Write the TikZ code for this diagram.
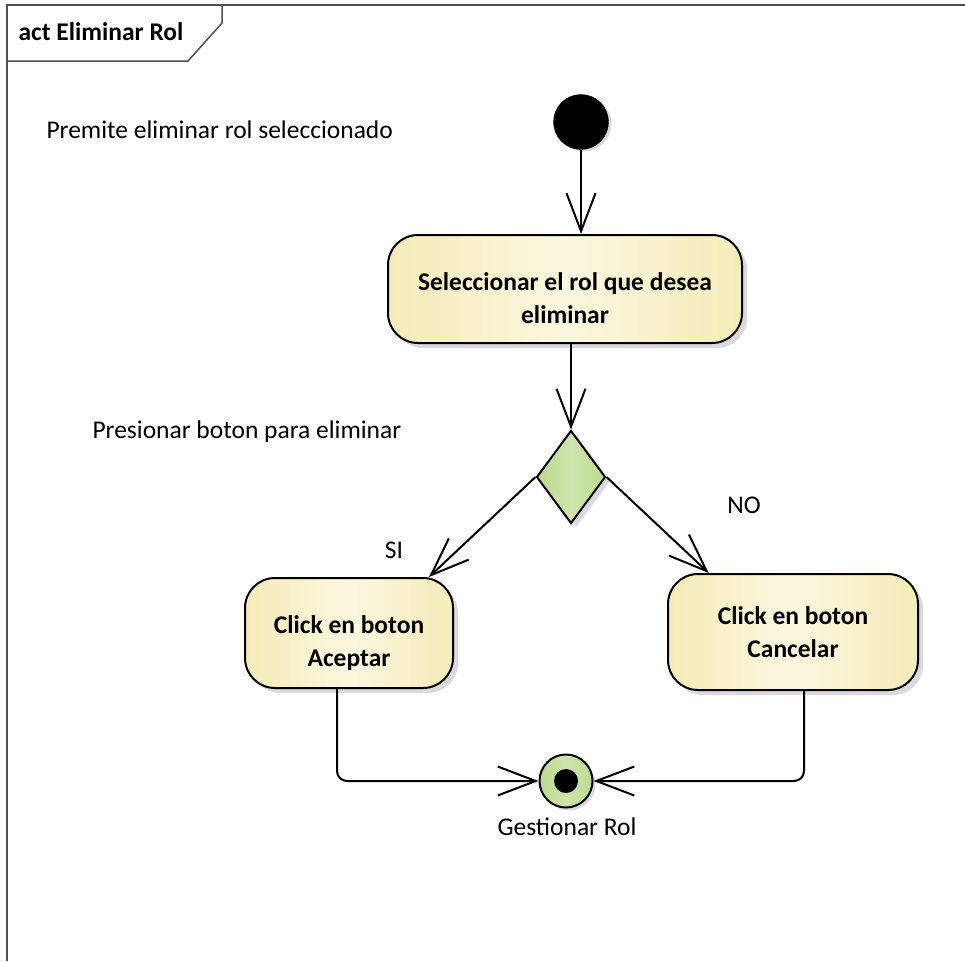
\documentclass[tikz,border=0pt]{standalone}
\usepackage{fontspec}
\setmainfont{Carlito}
\usepackage{tikz}
\usetikzlibrary{shapes.geometric, arrows.meta, shadows}

\definecolor{actEdge}{RGB}{245,236,184}
\definecolor{actMid}{RGB}{251,247,223}
\definecolor{decEdge}{RGB}{188,218,142}
\definecolor{decMid}{RGB}{206,229,172}
\definecolor{frameGray}{RGB}{80,80,80}
\definecolor{shadowGray}{RGB}{218,218,222}

% taller first line, pushes the text down in its box
\newcommand{\lowstrut}{\rule{0pt}{37pt}}

\begin{document}
\begin{tikzpicture}[
  x=1pt, y=-1pt,
  every node/.style={font=\fontsize{25.5}{33}\selectfont},
  action/.style={rectangle, rounded corners=30pt, draw=black, line width=2pt,
                 left color=actEdge, right color=actEdge, middle color=actMid,
                 align=center, font=\fontsize{25.5}{33}\selectfont\bfseries,
                 drop shadow={shadow xshift=5pt, shadow yshift=-5pt,
                              fill=shadowGray, opacity=1}},
  decision/.style={diamond, draw=black, line width=2pt, inner sep=0pt,
                   minimum width=69pt, minimum height=93pt,
                   left color=decEdge, right color=decEdge, middle color=decMid,
                   drop shadow={shadow xshift=5pt, shadow yshift=-4pt,
                                fill=shadowGray, opacity=1}},
  initial/.style={circle, fill=black, draw=black, minimum size=55pt, inner sep=0pt,
                  drop shadow={shadow xshift=3pt, shadow yshift=-2pt,
                               fill=shadowGray, opacity=1}},
  final/.style={circle, draw=black, line width=2pt, minimum size=53pt, inner sep=0pt,
                left color=decEdge, right color=decEdge, middle color=decMid,
                drop shadow={shadow xshift=3pt, shadow yshift=-3pt,
                             fill=shadowGray, opacity=1},
                path picture={\fill[black] (path picture bounding box.center) circle (12pt);}},
  flow/.style={-{Straight Barb[length=38pt, width=29pt, line width=2pt]},
               line width=2pt, draw=black},
  frame/.style={draw=frameGray, line width=1.5pt},
]
\useasboundingbox (0,0) rectangle (965,961);

% Frame
\draw[frame] (7,961) -- (7,5) -- (965,5);
\draw[frame] (7,61) -- (188,61) -- (222,23) -- (222,5);
\node[anchor=west, font=\fontsize{25.5}{30}\selectfont\bfseries] (title) at (15,32) {act Eliminar Rol};

% Nodes
\node[initial] (ini) at (581,122) {};
\node[action, minimum width=354pt, minimum height=108pt] (sel) at (565,289)
  {\lowstrut Seleccionar el rol que desea\\eliminar};
\node[decision] (dec) at (571,477) {};
\node[action, minimum width=208pt, minimum height=110pt] (acc) at (349,633)
  {\lowstrut Click en boton\\Aceptar};
\node[action, minimum width=250pt, minimum height=116pt] (can) at (793,632)
  {Click en boton\\Cancelar};
\node[final] (fin) at (566,781) {};

% Labels
\node[anchor=west] (lblIni) at (43,130) {Premite eliminar rol seleccionado};
\node[anchor=west] (lblDec) at (89,432) {Presionar boton para eliminar};
\node (lblNo) at (744,505) {NO};
\node (lblSi) at (394,550) {SI};
\node (lblFin) at (567,827) {Gestionar Rol};

% Arrows
\draw[flow] (ini) -- (ini |- sel.north);
\draw[flow] (dec |- sel.south) -- (dec.north);
\draw[flow] (dec.west) -- (acc.35);
\draw[flow] (dec.east) -- (can.145);
\draw[flow, rounded corners=10pt] ([xshift=-12pt]acc.south) |- (fin.west);
\draw[flow, rounded corners=10pt] ([xshift=11pt]can.south) |- (fin.east);
\end{tikzpicture}
\end{document}
